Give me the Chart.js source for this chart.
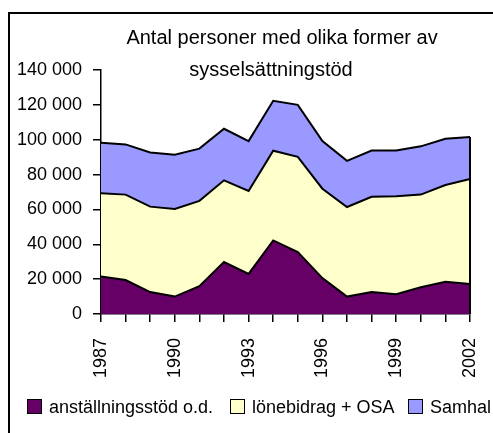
<!DOCTYPE html>
<html>
<head>
<meta charset="utf-8">
<script src="https://cdn.jsdelivr.net/npm/chart.js@4.4.1/dist/chart.umd.min.js"></script>
<style>
  html, body { margin: 0; padding: 0; background: #fff; overflow: hidden; }
  body { width: 493px; height: 433px; position: relative; font-family: "Liberation Sans", Arial, sans-serif; font-size: 18px; color: #000; }
  #frame { position: absolute; left: 8px; top: 12px; width: 520px; height: 460px; border-left: 2px solid #000; border-top: 2px solid #000; }
  #chart { position: absolute; left: 0; top: 0; }
  .title { position: absolute; white-space: nowrap; transform: translate(-50%, -50%); line-height: 22px; font-size: 20px; }
  #legend { position: absolute; left: 0; top: 396px; width: 491px; height: 24px; overflow: hidden; white-space: nowrap; }
  .item { position: absolute; top: 0; line-height: 22px; }
  .swatch { position: absolute; top: 3px; width: 13px; height: 13px; border: 1.5px solid #000; }
</style>
</head>
<body>
<div id="frame"></div>
<canvas id="chart" width="493" height="433"></canvas>
<div class="title" style="left:282px; top:37px;">Antal personer med olika former av</div>
<div class="title" style="left:271px; top:69px;">sysselsättningstöd</div>
<div id="legend"></div>
<script>
// Antal personer per år och stödform (staplade ytor)
const years = ["1987", "1988", "1989", "1990", "1991", "1992", "1993", "1994",
               "1995", "1996", "1997", "1998", "1999", "2000", "2001", "2002"];
const anstallningsstod = [21500, 19500, 12600, 10000, 16000, 29800, 23000, 42200,
                          35500, 20600, 10000, 12600, 11300, 15300, 18500, 17200];
const lonebidrag = [47800, 49000, 49000, 50300, 48900, 46900, 47600, 51500,
                    54700, 51300, 51400, 54700, 56200, 53200, 55500, 60300];
const samhall = [29000, 28800, 31100, 31100, 30000, 29600, 28600, 28600,
                 29800, 27300, 26500, 26500, 26300, 27700, 26500, 24000];
const seriesNames = ["anställningsstöd o.d.", "lönebidrag + OSA", "Samhall"];
const seriesColors = ["#660066", "#FFFFCC", "#9999FF"];
const yMax = 140000;
const yStep = 20000;

const font = { family: "'Liberation Sans', Arial, sans-serif", size: 18 };

function spaced(v) {
    return String(v).replace(/\B(?=(\d{3})+(?!\d))/g, " ");
}

// Vertical outline on the right edge of the stacked areas
const edgeLine = {
    id: "edgeLine",
    afterDatasetsDraw(chart) {
        const x = chart.scales.x;
        const y = chart.scales.y;
        const last = years.length - 1;
        const top = anstallningsstod[last] + lonebidrag[last] + samhall[last];
        const ctx = chart.ctx;
        ctx.save();
        ctx.strokeStyle = "#000";
        ctx.lineWidth = 2;
        ctx.beginPath();
        ctx.moveTo(x.getPixelForValue(last), y.getPixelForValue(0));
        ctx.lineTo(x.getPixelForValue(last), y.getPixelForValue(top));
        ctx.stroke();
        ctx.restore();
    }
};

const values = [anstallningsstod, lonebidrag, samhall];

const chart = new Chart(document.getElementById("chart"), {
    type: "line",
    data: {
        labels: years,
        datasets: values.map((data, i) => ({
            label: seriesNames[i],
            data: data,
            backgroundColor: seriesColors[i],
            borderColor: "#000",
            borderWidth: 2,
            pointRadius: 0,
            tension: 0,
            fill: i === 0 ? "origin" : "-1"
        }))
    },
    options: {
        responsive: false,
        animation: false,
        layout: { padding: { left: 0, top: 70, right: 23, bottom: 0 } },
        plugins: {
            legend: { display: false },
            title: { display: false },
            tooltip: { enabled: false }
        },
        scales: {
            x: {
                offset: false,
                afterFit(scale) {
                    scale.height = 119;
                    scale.paddingLeft = 0;
                    scale.paddingRight = 0;
                },
                border: { color: "#000", width: 1.5 },
                grid: { display: true, drawOnChartArea: false, color: "#000", lineWidth: 1.5, tickLength: 8 },
                ticks: {
                    autoSkip: false,
                    maxRotation: 90,
                    minRotation: 90,
                    padding: 16,
                    color: "#000",
                    font: font,
                    callback(value, index) { return index % 3 === 0 ? years[index] : ""; }
                }
            },
            y: {
                stacked: true,
                min: 0,
                max: yMax,
                afterFit(scale) {
                    scale.width = 101;
                    scale.paddingTop = 0;
                    scale.paddingBottom = 0;
                },
                border: { color: "#000", width: 1.5 },
                grid: { display: true, drawOnChartArea: false, color: "#000", lineWidth: 1.5, tickLength: 8 },
                ticks: {
                    stepSize: yStep,
                    padding: 11,
                    color: "#000",
                    font: font,
                    callback(value) { return spaced(value); }
                }
            }
        }
    },
    plugins: [edgeLine]
});

// Legend row under the axis
const legend = document.getElementById("legend");
const legendX = [27, 230, 408];
seriesNames.forEach((name, i) => {
    const item = document.createElement("div");
    item.className = "item";
    item.style.left = legendX[i] + "px";
    item.innerHTML = '<span class="swatch" style="background:' + seriesColors[i] + '"></span>' +
        '<span style="margin-left:22px">' + name + '</span>';
    legend.appendChild(item);
});
</script>
</body>
</html>
